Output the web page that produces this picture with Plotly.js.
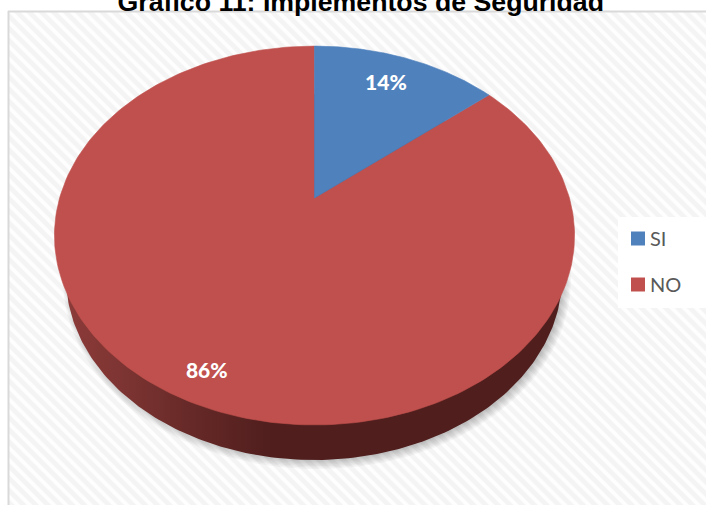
<!DOCTYPE html>
<html>
<head>
<meta charset="utf-8">
<script src="https://cdn.plot.ly/plotly-3.0.1.min.js"></script>
<style>
  html, body { margin: 0; padding: 0; background: #fff; width: 706px; height: 505px; overflow: hidden; }
  #hatch {
    position: absolute; left: 9px; top: 12px; right: 0; bottom: 0;
    background: repeating-linear-gradient(45deg, #f4f4f4 0, #f4f4f4 3.4px, #fefefe 4.8px, #fefefe 7.2px, #f4f4f4 8.6px);
  }
  #chart { position: absolute; left: 0; top: 0; width: 706px; height: 505px; }
</style>
</head>
<body>
<div id="hatch"></div>
<div id="chart"></div>
<script>
// Survey results
const categories = ['SI', 'NO'];
const values = [14, 86];
const sliceColors = ['#4F81BD', '#C0504D'];
const chartTitle = 'Grafico 11: Implementos de Seguridad';

// Tilted-disc projection: the disc centre sits above the middle of the visible ellipse
const apex = { x: 314.5, y: 198 };
const persp = 0.198, scaleX = 254.9, scaleY = 182;
const project = (angleDeg, r) => {
  const t = angleDeg * Math.PI / 180;
  const u = r * Math.sin(t), v = r * Math.cos(t);
  const d = 1 + persp * v;
  return [apex.x + scaleX * u / d, apex.y - scaleY * v / d];
};

// Lower rim of the disc, seen below the top face
const rim = { cx: 314, cy: 277, rx: 248, ry: 183 };
const ellipse = (e, dx, dy, grow) => {
  const xs = [], ys = [];
  for (let a = 0; a <= 360; a += 1) {
    const t = a * Math.PI / 180;
    xs.push(e.cx + dx + (e.rx + grow) * Math.cos(t));
    ys.push(e.cy + dy + (e.ry + grow) * Math.sin(t));
  }
  return { xs, ys };
};

const total = values.reduce((s, v) => s + v, 0);
const traces = [];

// Soft shadow under the disc
for (let i = 0; i < 7; i++) {
  const s = ellipse(rim, 3, 3, 6 - i * 1.4);
  traces.push({
    x: s.xs, y: s.ys, mode: 'lines', fill: 'toself', line: { width: 0 },
    fillcolor: 'rgba(0,0,0,0.035)', showlegend: false, hoverinfo: 'skip'
  });
}

// Side wall with its shading running left to right
const wall = ellipse(rim, 0, 0, 0);
traces.push({
  x: wall.xs, y: wall.ys, mode: 'lines', fill: 'toself', line: { width: 0 },
  fillgradient: {
    type: 'horizontal', start: 66, stop: 562,
    colorscale: [[0, '#8c3b39'], [0.12, '#7c3432'], [0.24, '#682a28'], [0.42, '#4f1e1d'], [1, '#4f1e1d']]
  },
  showlegend: false, hoverinfo: 'skip'
});

// Top face slices, swept clockwise from twelve o'clock; drawn last to first so the thin
// outline of the first slice closes the seam between them
let start = 0;
const midAngles = [];
const sliceTraces = values.map((v, i) => {
  const sweep = v / total * 360;
  const xs = [apex.x], ys = [apex.y];
  for (let k = 0; k <= 240; k++) {
    const p = project(start + sweep * k / 240, 1);
    xs.push(p[0]); ys.push(p[1]);
  }
  xs.push(apex.x); ys.push(apex.y);
  midAngles.push(start + sweep / 2);
  start += sweep;
  return {
    x: xs, y: ys, mode: 'lines', fill: 'toself', line: { width: 0.6, color: sliceColors[i] },
    fillcolor: sliceColors[i], name: categories[i], showlegend: false, hoverinfo: 'name'
  };
});
sliceTraces.reverse().forEach(t => traces.push(t));

// Percentage labels
const labelAngleShift = [-1, -1.4];
const labelRadius = [0.78, 0.88];
const labelPts = midAngles.map((a, i) => project(a + labelAngleShift[i], labelRadius[i]));
traces.push({
  x: labelPts.map(p => p[0]), y: labelPts.map(p => p[1]),
  mode: 'text', text: values.map(v => Math.round(v / total * 100) + '%'),
  textposition: 'middle center',
  textfont: { family: 'Lato, sans-serif', size: 21, color: '#ffffff', weight: 900 },
  showlegend: false, hoverinfo: 'skip'
});

// Legend keys
categories.forEach((c, i) => {
  traces.push({
    x: [null], y: [null], mode: 'markers', name: c, legendgroup: c,
    marker: { symbol: 'square', size: 14, color: sliceColors[i], line: { width: 0 } }
  });
});

const layout = {
  width: 706, height: 505,
  margin: { l: 0, r: 0, t: 0, b: 0 },
  paper_bgcolor: 'rgba(0,0,0,0)', plot_bgcolor: 'rgba(0,0,0,0)',
  xaxis: { range: [0, 706], visible: false, fixedrange: true },
  yaxis: { range: [505, 0], visible: false, fixedrange: true },
  title: {
    text: chartTitle, x: 0.511, xanchor: 'center', y: 1 - 11 / 505, yanchor: 'bottom',
    yref: 'paper',
    font: { family: 'Liberation Sans, Arial, sans-serif', size: 26.7, color: '#000000', weight: 700 }
  },
  showlegend: true,
  legend: {
    x: 610 / 706, xanchor: 'left', y: 1 - 219 / 505, yanchor: 'top',
    bgcolor: 'rgba(0,0,0,0)', borderwidth: 0,
    traceorder: 'grouped', tracegroupgap: 17, itemclick: false, itemdoubleclick: false,
    font: { family: 'Lato, sans-serif', size: 20, color: '#595959' }
  },
  shapes: [
    // chart frame, open at the right and bottom page edges
    { type: 'line', layer: 'below', x0: 8.5, x1: 8.5, y0: 11, y1: 505, line: { color: '#d9d9d9', width: 2 } },
    { type: 'line', layer: 'below', x0: 8, x1: 706, y0: 11.5, y1: 11.5, line: { color: '#d9d9d9', width: 2 } },
    // legend panel
    { type: 'rect', layer: 'below', x0: 618, x1: 706, y0: 217, y1: 308, fillcolor: '#ffffff', line: { width: 0 } }
  ],
  hovermode: 'closest'
};

Plotly.newPlot('chart', traces, layout, { displayModeBar: false }).then(gd => {
  // Pull the legend keys in close to their text
  gd.querySelectorAll('.legend .legendsymbols').forEach(el => el.setAttribute('transform', 'translate(8,0)'));
});
</script>
</body>
</html>
